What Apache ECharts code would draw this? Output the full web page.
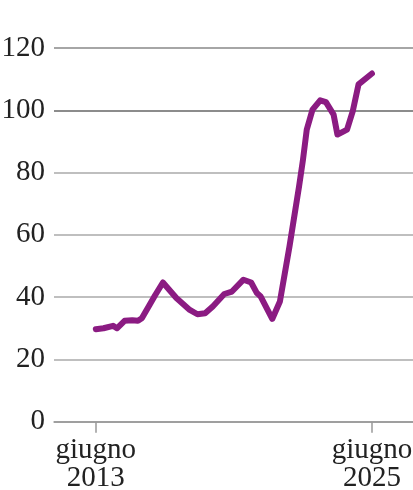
<!DOCTYPE html>
<html>
<head>
<meta charset="utf-8">
<script src="https://cdn.jsdelivr.net/npm/echarts@6/dist/echarts.min.js"></script>
<style>
html,body{margin:0;padding:0;background:#fff;}
#chart{width:413px;height:490px;}
</style>
</head>
<body>
<div id="chart"></div>
<script>
// Monthly points (YYYY-MM) and index values
var months = ['2013-06','2013-10','2014-03','2014-05','2014-09','2015-01','2015-04','2015-06','2015-10','2016-01','2016-05','2016-12','2017-07','2017-11','2018-03','2018-07','2019-01','2019-05','2019-11','2020-03','2020-06','2020-08','2021-02','2021-06','2021-11','2022-04','2022-06','2022-08','2022-11','2023-03','2023-06','2023-10','2023-12','2024-05','2024-08','2024-11','2025-06'];
var values = [29.7,30.0,30.8,30.0,32.4,32.6,32.4,33.2,37.5,40.7,44.7,39.7,35.9,34.5,34.8,37.0,41.0,41.8,45.6,44.7,41.3,40.2,33.0,38.6,56.3,75.6,84.0,93.8,100.2,103.2,102.6,98.6,92.2,93.8,99.7,108.3,111.8];
var tickMonths = ['2013-06','2025-06'];
var tickLabels = ['giugno\n2013','giugno\n2025'];
var yTicks = [0,20,40,60,80,100,120];

function toYear(s){var p=s.split('-');return +p[0]+(+p[1]-1)/12;}
var seriesData = months.map(function(m,i){return [toYear(m), values[i]];});
var tickVals = tickMonths.map(toYear);

var chart = echarts.init(document.getElementById('chart'), null, {renderer:'canvas'});
var font = '"Liberation Serif", "DejaVu Serif", serif';
chart.setOption({
  animation:false,
  grid:{left:54,right:0,top:48,bottom:68.3,outerBoundsMode:'none',containLabel:false},
  xAxis:{
    type:'value',
    min:2011.6, max:2027.2,
    splitLine:{show:false},
    axisLine:{show:true,lineStyle:{color:'#999',width:1.5}},
    axisTick:{show:true,customValues:tickVals,length:11,lineStyle:{color:'#999',width:1.5}},
    axisLabel:{
      show:true, customValues:tickVals,
      formatter:function(v){var i=tickVals.findIndex(function(t){return Math.abs(t-v)<1e-6;});return i>=0?tickLabels[i]:'';},
      fontFamily:font, fontSize:29, color:'#222', lineHeight:28, margin:15
    }
  },
  yAxis:{
    type:'value', min:yTicks[0], max:yTicks[yTicks.length-1], interval:20,
    axisLine:{show:false}, axisTick:{show:false},
    axisLabel:{fontFamily:font,fontSize:29,color:'#222',margin:9},
    splitLine:{show:true,lineStyle:{color:['#999','#aaa','#aaa','#aaa','#aaa','#666','#888'],width:1.5}}
  },
  series:[{
    type:'line',
    data:seriesData,
    showSymbol:false,
    lineStyle:{color:'#8b1b82',width:6,cap:'round',join:'round'}
  }]
});
</script>
</body>
</html>
